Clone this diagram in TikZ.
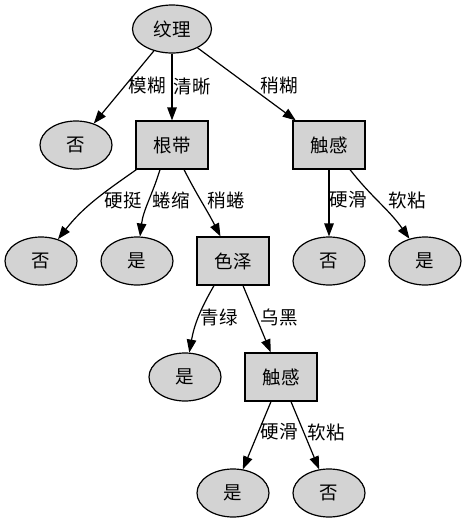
\documentclass[tikz,border=0pt]{standalone}
\usepackage{fontspec}
\newfontfamily\cjk{Noto Sans CJK SC}
\usetikzlibrary{shapes.geometric,arrows.meta}
\definecolor{nodegray}{HTML}{D3D3D3}
\begin{document}
\begin{tikzpicture}[x=1pt,y=1pt,
  font=\cjk\fontsize{18.5}{20}\selectfont,
  leaf/.style={ellipse,draw,fill=nodegray,line width=1.2pt,
    minimum width=72pt,minimum height=48pt,inner sep=0pt},
  test/.style={rectangle,draw,fill=nodegray,line width=1.2pt,
    minimum width=72pt,minimum height=48pt,inner sep=0pt},
  edge/.style={-{Triangle[length=13pt,width=9.5pt]},line width=1.2pt},
  lbl/.style={inner sep=0pt}]
\useasboundingbox (0,0) rectangle (467,-523);

% decision and leaf nodes
\node[leaf,minimum width=79pt] (wl) at (172,-29) {纹理};
\node[leaf] (f1) at (76,-145) {否};
\node[test] (gd) at (172,-145) {根带};
\node[test] (cg1) at (329,-145) {触感};
\node[leaf] (f2) at (41,-261) {否};
\node[leaf] (s1) at (137,-261) {是};
\node[test] (sz) at (233,-261) {色泽};
\node[leaf] (f3) at (329,-261) {否};
\node[leaf] (s2) at (425,-261) {是};
\node[leaf] (s3) at (185,-377) {是};
\node[test] (cg2) at (281,-377) {触感};
\node[leaf] (s4) at (233,-493) {是};
\node[leaf] (f4) at (329,-493) {否};

% branches
\draw[edge] (wl) -- (f1);
\draw[edge] (wl) -- (gd);
\draw[edge] (wl) -- (cg1);
\draw[edge] ([xshift=1pt]gd.south west) to[out=215,in=52] (f2);
\draw[edge] ([xshift=-12pt]gd.south) to[out=253,in=83] (s1);
\draw[edge] ([xshift=12pt]gd.south) to[out=-63,in=117] (sz);
\draw[edge] (cg1) -- (f3);
\draw[edge] ([xshift=21pt]cg1.south) to[out=-52,in=125] (s2);
\draw[edge] ([xshift=-19pt]sz.south) to[out=240,in=80] (s3);
\draw[edge] ([xshift=10pt]sz.south) -- (cg2);
\draw[edge] ([xshift=-10pt]cg2.south) -- (s4);
\draw[edge] ([xshift=10pt]cg2.south) -- (f4);

% branch labels
\node[lbl] (l1) at (147,-86) {模糊};
\node[lbl] (l2) at (192,-86) {清晰};
\node[lbl] (l3) at (279,-86) {稍糊};
\node[lbl] (l4) at (123,-200) {硬挺};
\node[lbl] (l5) at (171,-200) {蜷缩};
\node[lbl] (l6) at (226,-200) {稍蜷};
\node[lbl] (l7) at (348,-200) {硬滑};
\node[lbl] (l8) at (407,-200) {软粘};
\node[lbl] (l9) at (219,-317) {青绿};
\node[lbl] (l10) at (279,-317) {乌黑};
\node[lbl] (l11) at (279,-432) {硬滑};
\node[lbl] (l12) at (326,-432) {软粘};
\end{tikzpicture}
\end{document}
